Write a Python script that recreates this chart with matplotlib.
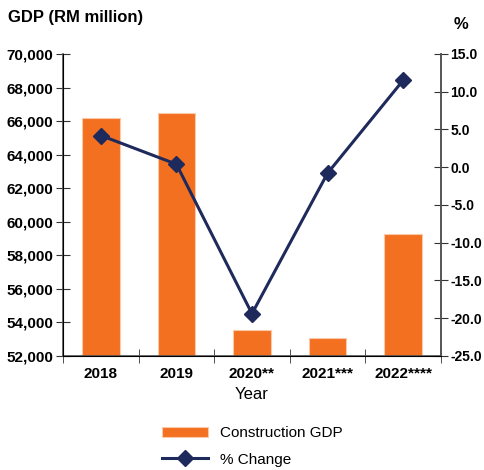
import matplotlib.pyplot as plt
import numpy as np

plt.rcParams['font.family'] = ['Liberation Sans', 'DejaVu Sans']
plt.rcParams['font.weight'] = 'bold'

years = ['2018', '2019', '2020**', '2021***', '2022****']
gdp = [66200, 66500, 53550, 53100, 59250]
pct = [4.2, 0.4, -19.4, -0.8, 11.5]

orange = '#f37021'
navy = '#1f2a5c'

fig = plt.figure(figsize=(4.85, 4.7), dpi=100)
ax = fig.add_axes([0.13, 0.2426, 0.779, 0.6426])
x = np.arange(len(years))

ax.bar(x, gdp, width=0.5, color=orange, edgecolor='#f9c9a8', linewidth=0.8,
       label='Construction GDP', zorder=2)
ax.set_ylim(52000, 70000)
ax.set_xlim(-0.5, 4.5)
ax.set_yticks(np.arange(52000, 70001, 2000))
ax.set_yticklabels([f'{v:,}' for v in range(52000, 70001, 2000)])
ax.set_xticks(x)
ax.set_xticklabels(years)
ax.set_xticks(np.arange(-0.5, 4.6, 1), minor=True)
ax.tick_params(axis='x', which='major', length=0, pad=8)
ax.tick_params(axis='x', which='minor', direction='inout', length=10, color='#333333')
ax.tick_params(axis='y', direction='inout', length=10, color='#333333', pad=2)
ax.tick_params(labelsize=11)
ax.spines['top'].set_visible(False)
for s in ['left', 'bottom', 'right']:
    ax.spines[s].set_color('#555555')
    ax.spines[s].set_linewidth(1.2)
ax.set_xlabel('Year', fontsize=12, fontweight='normal', labelpad=4)

ax2 = ax.twinx()
ax2.plot(x, pct, color=navy, linewidth=2.2, marker='D', markersize=8,
         label='% Change', zorder=3)
ax2.set_ylim(-25, 15)
ax2.set_yticks(np.arange(-25, 15.1, 5))
ax2.set_yticklabels([f'{v:.1f}' for v in np.arange(-25, 15.1, 5)])
ax2.tick_params(axis='y', direction='inout', length=10, color='#333333',
                labelsize=10, pad=2)
ax2.spines['top'].set_visible(False)
ax2.spines['right'].set_color('#555555')
ax2.spines['right'].set_linewidth(1.2)

fig.text(0.016, 0.962, 'GDP (RM million)', fontsize=12, va='center', ha='left')
fig.text(0.935, 0.947, '%', fontsize=12, va='center', ha='left')

h1, l1 = ax.get_legend_handles_labels()
h2, l2 = ax2.get_legend_handles_labels()
fig.legend(h1 + h2, l1 + l2, loc='center', bbox_to_anchor=(0.52, 0.05),
           frameon=False, prop={'weight': 'normal', 'size': 11},
           handlelength=3, labelspacing=0.8)

fig.savefig('out.png', dpi=100)
